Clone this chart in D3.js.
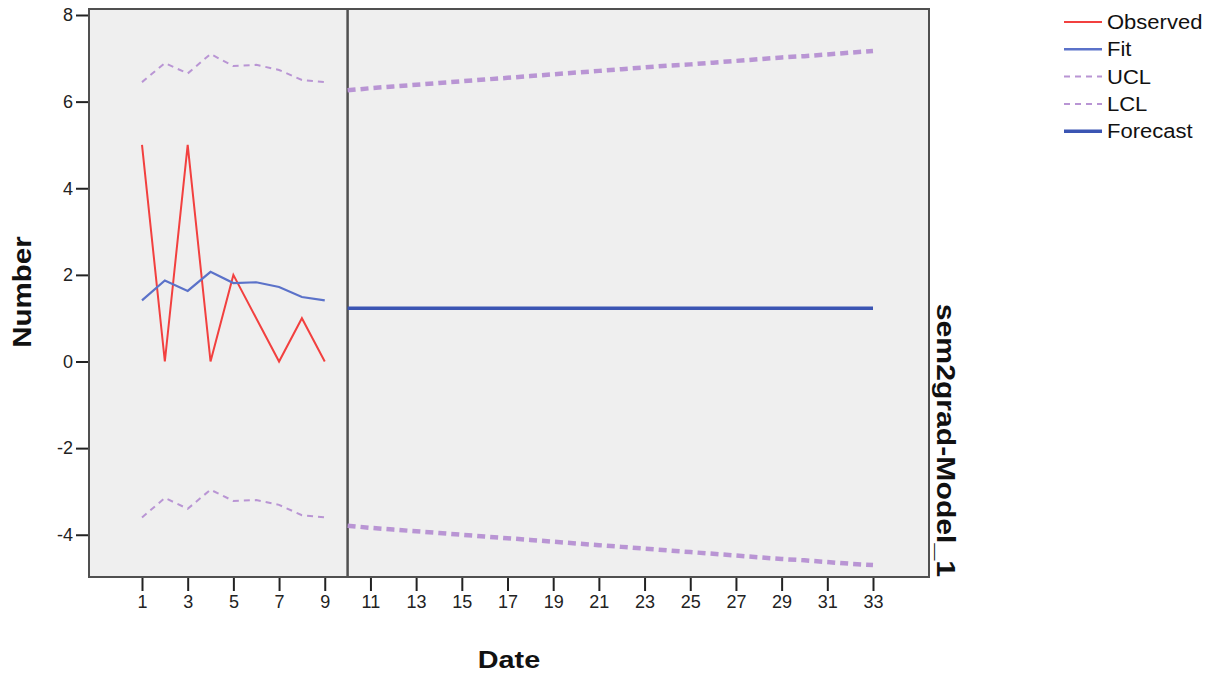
<!DOCTYPE html>
<html>
<head>
<meta charset="utf-8">
<script src="https://cdn.jsdelivr.net/npm/d3@7"></script>
<style>
body{margin:0;background:#fff;}
text{font-family:"Liberation Sans",Arial,sans-serif;}
</style>
</head>
<body>
<svg id="chart" width="1211" height="675"></svg>
<script>
// observed period
const obsDates=[1,2,3,4,5,6,7,8,9]
const observed=[5,0,5,0,2,1,0,1,0]
const fit=[1.41,1.87,1.63,2.07,1.81,1.83,1.72,1.49,1.41]
const fitUCL=[6.45,6.89,6.65,7.10,6.82,6.85,6.73,6.50,6.45]
const fitLCL=[-3.6,-3.15,-3.4,-2.96,-3.22,-3.2,-3.31,-3.55,-3.6]
// forecast period
const fcDates=[10,11,12,13,14,15,16,17,18,19,20,21,22,23,24,25,26,27,28,29,30,31,32,33]
const forecast=[1.23,1.23,1.23,1.23,1.23,1.23,1.23,1.23,1.23,1.23,1.23,1.23,1.23,1.23,1.23,1.23,1.23,1.23,1.23,1.23,1.23,1.23,1.23,1.23]
const fcUCL=[6.26,6.31,6.35,6.39,6.43,6.47,6.51,6.55,6.59,6.63,6.67,6.71,6.75,6.79,6.83,6.86,6.90,6.94,6.98,7.02,7.05,7.09,7.13,7.17]
const fcLCL=[-3.79,-3.84,-3.88,-3.92,-3.96,-4.00,-4.04,-4.08,-4.12,-4.16,-4.20,-4.24,-4.28,-4.32,-4.36,-4.40,-4.44,-4.48,-4.52,-4.56,-4.59,-4.63,-4.67,-4.70]
const forecastStart=10
const xTicks=[1,3,5,7,9,11,13,15,17,19,21,23,25,27,29,31,33]
const yTicks=[-4,-2,0,2,4,6,8]
const legendItems=['Observed','Fit','UCL','LCL','Forecast']

const svg=d3.select('#chart')
const frame={left:89,top:9,right:929,bottom:577}

const x=d3.scaleLinear().domain([1,33]).range([142,873])
const y=d3.scaleLinear().domain([0,8]).range([361.5,15])

const red='#f2403f', fitBlue='#5b72c9', fcBlue='#3b55b3', purple='#b995d4'

// spss text looks a bit wider than liberation, stretch it
function stretch(sel,f){
	sel.each(function(){
		let w=this.getComputedTextLength()
		d3.select(this).attr('textLength',w*f).attr('lengthAdjust','spacingAndGlyphs')
	})
}

// plot background + frame
svg.append('rect')
	.attr('x',frame.left).attr('y',frame.top)
	.attr('width',frame.right-frame.left).attr('height',frame.bottom-frame.top)
	.attr('fill','#efefef').attr('stroke','#505050').attr('stroke-width',2)

// axes
let xaxis=d3.axisBottom(x).tickValues(xTicks).tickSize(13).tickPadding(4).tickFormat(d=>String(d))
let gx=svg.append('g').attr('transform','translate(0,'+(frame.bottom+1)+')').call(xaxis)
gx.select('.domain').remove()
gx.selectAll('line').attr('stroke','#222').attr('stroke-width',2)
gx.selectAll('text').attr('font-size',18).attr('fill','#222')

let yaxis=d3.axisLeft(y).tickValues(yTicks).tickSize(12).tickPadding(3).tickFormat(d=>String(d))
let gy=svg.append('g').attr('transform','translate('+(frame.left-1)+',0)').call(yaxis)
gy.select('.domain').remove()
gy.selectAll('line').attr('stroke','#222').attr('stroke-width',2)
gy.selectAll('text').attr('font-size',18).attr('fill','#222')

// forecast start reference
svg.append('line')
	.attr('x1',x(forecastStart)).attr('x2',x(forecastStart))
	.attr('y1',frame.top).attr('y2',frame.bottom)
	.attr('stroke','#505050').attr('stroke-width',2.5)

const line=d3.line().x(d=>x(d[0])).y(d=>y(d[1]))
function series(dates,vals){return dates.map((d,i)=>[d,vals[i]])}

let plot=svg.append('g')
plot.append('path').datum(series(obsDates,fitUCL)).attr('d',line)
	.attr('fill','none').attr('stroke',purple).attr('stroke-width',2).attr('stroke-dasharray','6,5')
plot.append('path').datum(series(obsDates,fitLCL)).attr('d',line)
	.attr('fill','none').attr('stroke',purple).attr('stroke-width',2).attr('stroke-dasharray','6,5')
plot.append('path').datum(series(fcDates,fcUCL)).attr('d',line)
	.attr('fill','none').attr('stroke',purple).attr('stroke-width',4.5).attr('stroke-dasharray','8,5')
plot.append('path').datum(series(fcDates,fcLCL)).attr('d',line)
	.attr('fill','none').attr('stroke',purple).attr('stroke-width',4.5).attr('stroke-dasharray','8,5')
plot.append('path').datum(series(obsDates,observed)).attr('d',line)
	.attr('fill','none').attr('stroke',red).attr('stroke-width',2)
plot.append('path').datum(series(obsDates,fit)).attr('d',line)
	.attr('fill','none').attr('stroke',fitBlue).attr('stroke-width',2.2)
plot.append('path').datum(series(fcDates,forecast)).attr('d',line)
	.attr('fill','none').attr('stroke',fcBlue).attr('stroke-width',3.5)

// titles
let tDate=svg.append('text').attr('x',509).attr('y',668).attr('text-anchor','middle')
	.attr('font-size',24).attr('font-weight','bold').attr('fill','#111').text('Date')
stretch(tDate,1.2)
let tNum=svg.append('text').attr('transform','translate(31,292) rotate(-90)').attr('text-anchor','middle')
	.attr('font-size',25).attr('font-weight','bold').attr('fill','#111').text('Number')
stretch(tNum,1.18)
let tPanel=svg.append('text').attr('transform','translate(937,577) rotate(90)').attr('text-anchor','end')
	.attr('font-size',26).attr('font-weight','bold').attr('fill','#111').text('sem2grad-Model_1')
stretch(tPanel,1.16)

// legend
const legStyle=[
	{c:red,w:2,dash:null},
	{c:fitBlue,w:2.5,dash:null},
	{c:purple,w:2,dash:'6,5'},
	{c:purple,w:2,dash:'6,5'},
	{c:fcBlue,w:3.5,dash:null}
]
let legend=svg.append('g')
legendItems.forEach((name,i)=>{
	let yy=22+i*27.3
	legend.append('line').attr('x1',1064).attr('x2',1102).attr('y1',yy).attr('y2',yy)
		.attr('stroke',legStyle[i].c).attr('stroke-width',legStyle[i].w)
		.attr('stroke-dasharray',legStyle[i].dash)
	let t=legend.append('text').attr('x',1107).attr('y',yy+7).attr('font-size',20)
		.attr('fill','#111').text(name)
	stretch(t,1.1)
})
</script>
</body>
</html>
